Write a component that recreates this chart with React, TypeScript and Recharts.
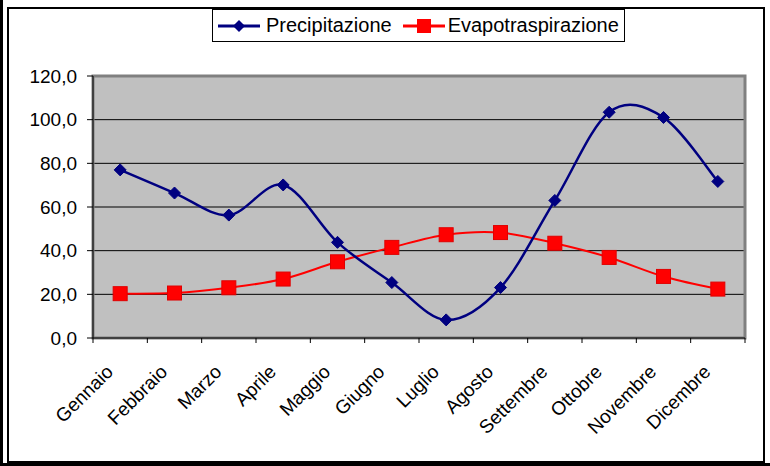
import React from 'react';
import { CartesianGrid, LineChart, Line, ReferenceArea, XAxis, YAxis } from 'recharts';

const months = ['Gennaio', 'Febbraio', 'Marzo', 'Aprile', 'Maggio', 'Giugno', 'Luglio', 'Agosto', 'Settembre', 'Ottobre', 'Novembre', 'Dicembre'];
const precipitazione = [77.0, 66.4, 56.3, 70.1, 43.8, 25.4, 8.3, 23.1, 63.0, 103.4, 101.0, 71.7];
const evapotraspirazione = [20.3, 20.6, 23.0, 27.0, 34.9, 41.5, 47.3, 48.3, 43.4, 36.9, 28.2, 22.4];
const yTicks = [0, 20, 40, 60, 80, 100, 120];

const data = months.map((m, i) => ({ month: m, precip: precipitazione[i], evap: evapotraspirazione[i] }));

const FONT = '"Liberation Sans", Arial, sans-serif';
const W = 770;
const H = 466;
const margin = { top: 76, right: 25, bottom: 0, left: 0 };
const yAxisW = 93;
const xAxisH = 128;
const halfBand = (W - margin.right - yAxisW) / months.length / 2;

// excel-ish smoothing: bezier with control points at +/- (next - prev) / 6
const excelCurve = (context: any) => {
  let pts: number[][] = [];
  return {
    areaStart() {},
    areaEnd() {},
    lineStart() {
      pts = [];
    },
    point(x: number, y: number) {
      pts.push([+x, +y]);
    },
    lineEnd() {
      if (!pts.length) return;
      context.moveTo(pts[0][0], pts[0][1]);
      for (let i = 0; i < pts.length - 1; i++) {
        const p0 = pts[i - 1] || pts[i];
        const p1 = pts[i];
        const p2 = pts[i + 1];
        const p3 = pts[i + 2] || p2;
        context.bezierCurveTo(
          p1[0] + (p2[0] - p0[0]) / 6, p1[1] + (p2[1] - p0[1]) / 6,
          p2[0] - (p3[0] - p1[0]) / 6, p2[1] - (p3[1] - p1[1]) / 6,
          p2[0], p2[1]
        );
      }
    },
  };
};

const Diamond = (props: any) => {
  const { cx, cy } = props;
  if (cx == null || cy == null) return null;
  const r = 6;
  return <path d={`M${cx},${cy - r}L${cx + r},${cy}L${cx},${cy + r}L${cx - r},${cy}Z`} fill="#000080" stroke="#000080" />;
};

const Square = (props: any) => {
  const { cx, cy } = props;
  if (cx == null || cy == null) return null;
  const s = 7;
  return <rect x={cx - s} y={cy - s} width={s * 2} height={s * 2} fill="#ff0000" stroke="#e00000" strokeWidth={1} />;
};

const MonthTick = (props: any) => {
  const { x, y, payload, index } = props;
  const tx = x - 6;
  const ty = y + 35;
  return (
    <g>
      <line x1={x - halfBand} y1={y} x2={x - halfBand} y2={y + 5} stroke="#000" />
      {index === months.length - 1 && <line x1={x + halfBand} y1={y} x2={x + halfBand} y2={y + 5} stroke="#000" />}
      <text x={tx} y={ty} textAnchor="end" fontSize={19} fontFamily={FONT} fill="#000" transform={`rotate(-45, ${tx}, ${ty})`}>
        {payload.value}
      </text>
    </g>
  );
};

const LegendIcon = ({ color, square }: { color: string; square?: boolean }) => (
  <svg width={42} height={14} style={{ display: 'block' }}>
    <line x1={0} y1={7} x2={42} y2={7} stroke={color} strokeWidth={3} />
    {square ? (
      <rect x={14} y={0} width={14} height={14} fill={color} />
    ) : (
      <path d="M21,1L27,7L21,13L15,7Z" fill={color} />
    )}
  </svg>
);

export default function App() {
  return (
    <div style={{ position: 'absolute', left: 0, top: 0, width: W, height: H, background: '#fff', overflow: 'hidden', fontFamily: FONT }}>
      <div style={{ position: 'absolute', left: 0, top: 0, width: 3, height: H, background: '#000' }} />
      <div style={{ position: 'absolute', left: 0, top: 463, width: W, height: 3, background: '#000' }} />
      <div style={{ position: 'absolute', left: 7, top: 7, width: 758, height: 456, border: '2px solid #000', boxSizing: 'border-box' }} />

      <div
        style={{
          position: 'absolute', left: 212, top: 9, width: 413, height: 33, boxSizing: 'border-box',
          border: '1px solid #000', background: '#fff', display: 'flex', alignItems: 'center', fontSize: 20, color: '#000',
          whiteSpace: 'nowrap',
        }}
      >
        <div style={{ marginLeft: 5 }}><LegendIcon color="#000080" /></div>
        <span style={{ marginLeft: 6 }}>Precipitazione</span>
        <div style={{ marginLeft: 11 }}><LegendIcon color="#ff0000" square /></div>
        <span style={{ marginLeft: 3 }}>Evapotraspirazione</span>
      </div>

      <div style={{ position: 'absolute', left: 0, top: 0 }}>
        <LineChart width={W} height={H} data={data} margin={margin}>
          <CartesianGrid fill="#c0c0c0" stroke="#000" vertical={false} />
          <ReferenceArea y1={0} y2={120} fill="none" stroke="#808080" strokeWidth={3} ifOverflow="visible" />
          <XAxis
            dataKey="month"
            scale="band"
            interval={0}
            height={xAxisH}
            tickLine={false}
            tickSize={0}
            tickMargin={0}
            axisLine={{ stroke: '#000' }}
            tick={<MonthTick />}
          />
          <YAxis
            domain={[0, 120]}
            ticks={yTicks}
            width={yAxisW}
            tickSize={6}
            tickMargin={10}
            axisLine={{ stroke: '#000' }}
            tickLine={{ stroke: '#000' }}
            tick={{ fill: '#000', fontSize: 19, fontFamily: FONT }}
            tickFormatter={(v: number) => v.toFixed(1).replace('.', ',')}
          />
          <Line
            dataKey="evap"
            type={excelCurve as any}
            stroke="#ff0000"
            strokeWidth={2}
            dot={<Square />}
            activeDot={false}
            isAnimationActive={false}
          />
          <Line
            dataKey="precip"
            type={excelCurve as any}
            stroke="#000080"
            strokeWidth={2.5}
            dot={<Diamond />}
            activeDot={false}
            isAnimationActive={false}
          />
        </LineChart>
      </div>
    </div>
  );
}
